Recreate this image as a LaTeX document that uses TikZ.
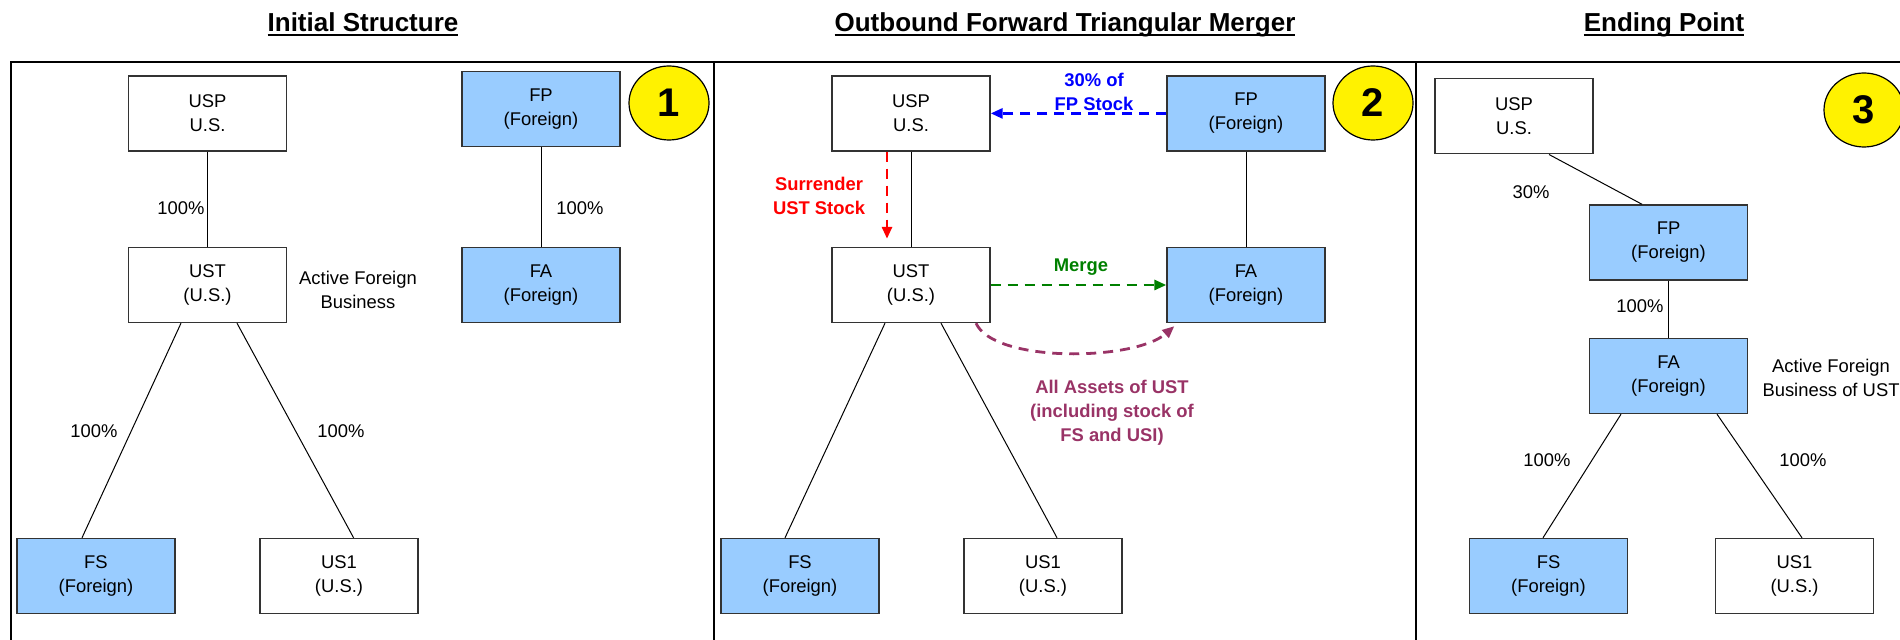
\documentclass[tikz,border=0pt]{standalone}
\usepackage{fontspec}
\setmainfont{Liberation Sans}
\usepackage{xcolor}
\usepackage{tikz}
\usetikzlibrary{arrows.meta,shapes.geometric}
\definecolor{frgnBlue}{RGB}{153,204,255}
\definecolor{moveBlue}{RGB}{0,0,255}
\definecolor{moveRed}{RGB}{255,0,0}
\definecolor{moveGreen}{RGB}{0,128,0}
\definecolor{movePlum}{RGB}{153,51,102}
\newsavebox{\ttlbox}
\newcommand{\undl}[1]{\sbox{\ttlbox}{#1}\rlap{\rule[-1.9pt]{\wd\ttlbox}{0.7pt}}\usebox{\ttlbox}}

\begin{document}
\begin{tikzpicture}[
  x=0.5pt, y=-0.5pt,
  font=\fontsize{9.2}{12}\selectfont,
  box/.style={draw=black!80, line width=0.7pt, fill=white, align=center,
              minimum width=79pt, minimum height=37.5pt, inner sep=2pt},
  forbox/.style={box, fill=frgnBlue},
  numc/.style={ellipse, draw=black, line width=0.6pt, fill=yellow, inner sep=0pt,
              minimum width=40pt, minimum height=37pt, font=\fontsize{20}{24}\selectfont\bfseries},
  pct/.style={inner sep=1pt},
  ttl/.style={anchor=base, inner sep=0pt, font=\fontsize{13}{15}\selectfont\bfseries},
  mvlbl/.style={align=center, inner sep=1pt, font=\fontsize{9.2}{12}\selectfont\bfseries},
  own/.style={line width=0.5pt},
  frame/.style={line width=1.1pt},
  mv/.style={line width=1.4pt, dash pattern=on 5pt off 3.5pt,
              -{Triangle[length=6pt,width=5pt]}}
]
\useasboundingbox (0,0) rectangle (1900,640);

\node[ttl] (t1) at (363,32) {\undl{Initial Structure}};
\node[ttl] (t2) at (1065,32) {\undl{Outbound Forward Triangular Merger}};
\node[ttl] (t3) at (1664,32) {\undl{Ending Point}};

\draw[frame] (11,645) |- (1905,62);
\foreach \xd in {714,1416}
  \draw[frame] (\xd,62) -- (\xd,645);

\node[box] (usp1) at (207.5,113.4) {USP\\U.S.};
\node[box] (ust1) at (207.5,285) {UST\\(U.S.)};
\node[forbox] (fp1) at (541,109.3) {FP\\(Foreign)};
\node[forbox] (fa1) at (541,285) {FA\\(Foreign)};
\node[forbox] (fs1) at (96,576) {FS\\(Foreign)};
\node[box] (us1a) at (339,576) {US1\\(U.S.)};
\node[numc] (n1) at (669,103) {1};

\draw[own] (usp1.south) -- (ust1.north);
\draw[own] (fp1.south) -- (fa1.north);
\draw[own] ([xshift=-13.25pt]ust1.south) -- ([xshift=-7pt]fs1.north);
\draw[own] ([xshift=14.75pt]ust1.south) -- ([xshift=7.3pt]us1a.north);

\node[pct] (p1a) at (181,208) {100\%};
\node[pct] (p1b) at (580,208) {100\%};
\node[pct] (p1c) at (94,431) {100\%};
\node[pct] (p1d) at (341,431) {100\%};
\node[align=center] (afb1) at (358,290) {Active Foreign\\Business};

\node[box] (usp2) at (911,113.4) {USP\\U.S.};
\node[forbox] (fp2) at (1246,113.4) {FP\\(Foreign)};
\node[box] (ust2) at (911,285) {UST\\(U.S.)};
\node[forbox] (fa2) at (1246,285) {FA\\(Foreign)};
\node[forbox] (fs2) at (800,576) {FS\\(Foreign)};
\node[box] (us1b) at (1043,576) {US1\\(U.S.)};
\node[numc] (n2) at (1373,103) {2};

\draw[own] (usp2.south) -- (ust2.north);
\draw[own] (fp2.south) -- (fa2.north);
\draw[own] ([xshift=-13pt]ust2.south) -- ([xshift=-7.5pt]fs2.north);
\draw[own] ([xshift=15pt]ust2.south) -- ([xshift=7pt]us1b.north);

\draw[mv, moveBlue] (fp2.west) -- (usp2.east);
\draw[mv, moveRed, shorten >=4pt] ([xshift=-12pt]usp2.south) -- ([xshift=-12pt]ust2.north);
\draw[mv, moveGreen] (ust2.east) -- (fa2.west);
\draw[mv, movePlum] ([xshift=32.5pt]ust2.south) .. controls +(18,40) and +(-40,35) ..
  ([xshift=4pt,yshift=-1.5pt]fa2.south west);

\node[mvlbl, moveBlue] (lab30) at (1094,91.5) {30\% of\\FP Stock};
\node[mvlbl, moveRed] (labsur) at (819,196) {Surrender\\UST Stock};
\node[mvlbl, moveGreen] (labmrg) at (1081,267) {Merge};
\node[mvlbl, movePlum] (labast) at (1112,413) {All Assets of UST\\(including stock of\\FS and USI)};

\node[box] (usp3) at (1514,116.3) {USP\\U.S.};
\node[forbox] (fp3) at (1668.5,242.5) {FP\\(Foreign)};
\node[forbox] (fa3) at (1668.5,376) {FA\\(Foreign)};
\node[forbox] (fs3) at (1548.5,576) {FS\\(Foreign)};
\node[box] (us1c) at (1794.5,576) {US1\\(U.S.)};
\node[numc] (n3) at (1864,110) {3};

\draw[own] ([xshift=17.5pt]usp3.south) -- ([xshift=-13.25pt]fp3.north);
\draw[own] (fp3.south) -- (fa3.north);
\draw[own] ([xshift=-23.75pt]fa3.south) -- ([xshift=-2.75pt]fs3.north);
\draw[own] ([xshift=24.25pt]fa3.south) -- ([xshift=3.75pt]us1c.north);

\node[pct] (p3a) at (1531,192) {30\%};
\node[pct] (p3b) at (1640,306) {100\%};
\node[pct] (p3c) at (1547,460) {100\%};
\node[pct] (p3d) at (1803,460) {100\%};
\node[align=center] (afb3) at (1831,378) {Active Foreign\\Business of UST};

\end{tikzpicture}
\end{document}
